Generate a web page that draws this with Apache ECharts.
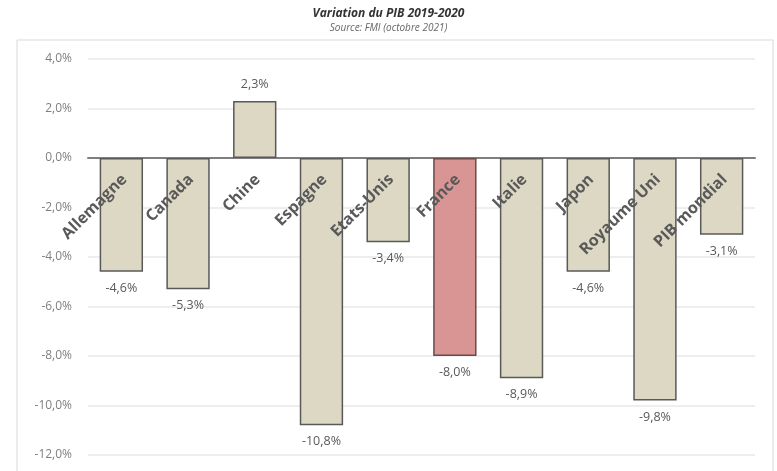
<!DOCTYPE html>
<html>
<head>
<meta charset="utf-8">
<script src="https://cdn.jsdelivr.net/npm/echarts@6/dist/echarts.min.js"></script>
<style>
  html, body { margin: 0; padding: 0; background: #fff; }
  #chart { width: 777px; height: 471px; }
</style>
</head>
<body>
<div id="chart"></div>
<script>
// données
const categories = ['Allemagne', 'Canada', 'Chine', 'Espagne', 'Etats-Unis', 'France', 'Italie', 'Japon', 'Royaume Uni', 'PIB mondial'];
const variations = [-4.6, -5.3, 2.3, -10.8, -3.4, -8.0, -8.9, -4.6, -9.8, -3.1];
const highlighted = 'France';
const yTicks = { min: -12, max: 4, interval: 2 };

const fmt = v => v.toFixed(1).replace('.', ',') + '%';

const seriesData = variations.map((v, i) => {
  const isHl = categories[i] === highlighted;
  return {
    value: v,
    itemStyle: isHl ? { color: '#D99594', borderColor: '#6b4a4a' } : undefined,
    label: { position: v < 0 ? 'bottom' : 'top' }
  };
});

// libellés des catégories posés sur la ligne du zéro (comme dans Excel)
function renderCatLabel(params, api) {
  const p = api.coord([api.value(0), 0]);
  return {
    type: 'text',
    x: p[0] + 3,
    y: p[1] + 19,
    rotation: Math.PI / 4,
    style: {
      text: categories[params.dataIndex],
      align: 'right',
      verticalAlign: 'middle',
      fill: '#595959',
      font: 'bold 16px "Open Sans"'
    },
    silent: true
  };
}

const chart = echarts.init(document.getElementById('chart'));
chart.setOption({
  animation: false,
  title: {
    text: 'Variation du PIB 2019-2020',
    subtext: 'Source: FMI (octobre 2021)',
    left: 'center',
    top: 3,
    itemGap: 3,
    textStyle: { fontFamily: 'Open Sans', fontSize: 12, fontWeight: 'bold', fontStyle: 'italic', color: '#333' },
    subtextStyle: { fontFamily: 'Open Sans', fontSize: 10, fontStyle: 'italic', color: '#666' }
  },
  graphic: [{
    type: 'rect',
    shape: { x: 17, y: 40, width: 756, height: 440 },
    style: { fill: 'none', stroke: '#d9d9d9', lineWidth: 1 },
    silent: true
  }],
  grid: { left: 88, right: 22, top: 59, bottom: 16, containLabel: false, outerBoundsMode: 'none' },
  xAxis: {
    type: 'category',
    data: categories,
    axisLine: { onZero: true, lineStyle: { color: '#7f7f7f', width: 2 } },
    axisTick: { show: false },
    axisLabel: { show: false }
  },
  yAxis: {
    type: 'value',
    min: yTicks.min,
    max: yTicks.max,
    interval: yTicks.interval,
    axisLine: { show: false },
    axisTick: { show: false },
    axisLabel: {
      margin: 16,
      color: '#7f7f7f',
      fontFamily: 'Open Sans',
      fontSize: 12,
      formatter: v => fmt(v)
    },
    splitLine: { lineStyle: { color: '#e8e8e8', width: 1.5 } }
  },
  series: [{
    type: 'bar',
    data: seriesData,
    barWidth: '65%',
    itemStyle: { color: '#DDD8C4', borderColor: '#595959', borderWidth: 1.5 },
    label: {
      show: true,
      distance: 10,
      color: '#595959',
      fontFamily: 'Open Sans',
      fontSize: 12.5,
      formatter: p => fmt(p.value)
    },
    z: 2
  }, {
    type: 'custom',
    renderItem: renderCatLabel,
    data: categories.map((c, i) => [i]),
    encode: { x: 0 },
    z: 5
  }]
});
</script>
</body>
</html>
